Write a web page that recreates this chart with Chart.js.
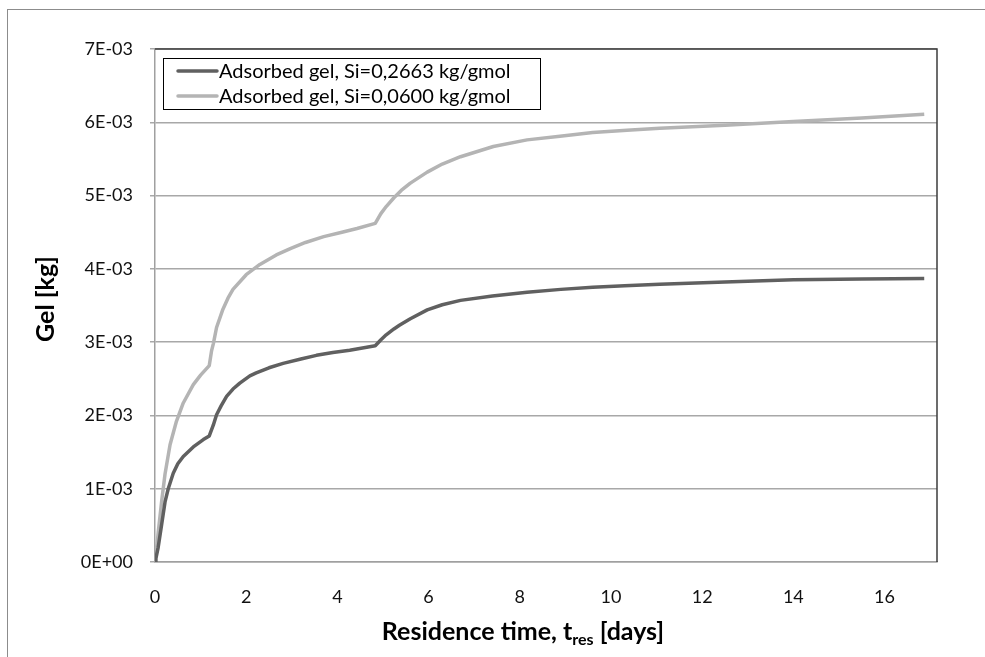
<!DOCTYPE html>
<html lang="en">
<head>
    <meta charset="UTF-8">
    <title>Adsorbed gel vs residence time</title>
    <script src="https://cdn.jsdelivr.net/npm/chart.js"></script>
    <style>
        body {
            margin: 0;
            padding: 0;
            background: white;
        }
        #wrap {
            width: 985px;
            height: 657px;
        }
    </style>
</head>
<body>
    <div id="wrap">
        <canvas id="gelChart" width="985" height="657"></canvas>
    </div>
    <script>
        // Residence time [days] and adsorbed gel [kg]
        const darkLabel = 'Adsorbed gel, Si=0,2663 kg/gmol';
        const darkTime = [0, 0.02, 0.07, 0.15, 0.22, 0.29, 0.4, 0.5, 0.62, 0.84, 1.06, 1.19,
            1.28, 1.35, 1.45, 1.57, 1.71, 1.86, 2.08, 2.22, 2.5, 2.81, 3.2, 3.54, 3.9, 4.27, 4.83,
            4.95, 5.07, 5.24, 5.36, 5.6, 5.97, 6.3, 6.7, 7.4, 8.16, 8.9, 9.6, 10.3, 11.07, 12.5, 14.0, 15.5, 16.87];
        const darkGel = [0, 0.05e-3, 0.20e-3, 0.53e-3, 0.82e-3, 1.00e-3, 1.21e-3, 1.34e-3, 1.44e-3, 1.57e-3, 1.67e-3, 1.72e-3,
            1.87e-3, 2.01e-3, 2.13e-3, 2.26e-3, 2.36e-3, 2.44e-3, 2.54e-3, 2.58e-3, 2.65e-3, 2.71e-3, 2.77e-3, 2.82e-3, 2.86e-3, 2.89e-3, 2.95e-3,
            3.03e-3, 3.10e-3, 3.18e-3, 3.23e-3, 3.32e-3, 3.44e-3, 3.51e-3, 3.57e-3, 3.63e-3, 3.68e-3, 3.72e-3, 3.75e-3, 3.77e-3, 3.79e-3, 3.82e-3, 3.85e-3, 3.86e-3, 3.87e-3];

        const lightLabel = 'Adsorbed gel, Si=0,0600 kg/gmol';
        const lightTime = [0, 0.03, 0.07, 0.15, 0.22, 0.33, 0.47, 0.62, 0.84, 1.0, 1.19,
            1.24, 1.28, 1.35, 1.49, 1.6, 1.71, 2.0, 2.3, 2.66, 2.98, 3.3, 3.7, 4.1, 4.43, 4.83,
            4.95, 5.07, 5.24, 5.4, 5.6, 5.97, 6.3, 6.7, 7.42, 8.16, 8.88, 9.6, 10.35, 11.07, 12.5, 14.0, 15.5, 16.87];
        const lightGel = [0, 0.15e-3, 0.40e-3, 0.85e-3, 1.20e-3, 1.60e-3, 1.92e-3, 2.17e-3, 2.42e-3, 2.55e-3, 2.68e-3,
            2.88e-3, 2.98e-3, 3.20e-3, 3.45e-3, 3.60e-3, 3.72e-3, 3.92e-3, 4.06e-3, 4.19e-3, 4.28e-3, 4.36e-3, 4.44e-3, 4.50e-3, 4.55e-3, 4.62e-3,
            4.75e-3, 4.85e-3, 4.97e-3, 5.07e-3, 5.17e-3, 5.32e-3, 5.43e-3, 5.53e-3, 5.67e-3, 5.76e-3, 5.81e-3, 5.86e-3, 5.89e-3, 5.92e-3, 5.96e-3, 6.01e-3, 6.06e-3, 6.11e-3];

        // Axis settings
        const xMin = 0;
        const xMax = 17.15;
        const xStep = 2;
        const yMin = 0;
        const yMax = 7e-3;
        const yStep = 1e-3;

        const FONT = 'Lato, "Open Sans", sans-serif';

        function toPoints(xs, ys) {
            return xs.map((x, i) => ({ x: x, y: ys[i] }));
        }

        // Outer frame, plot border, axis titles and legend box
        const decorations = {
            id: 'decorations',
            beforeDraw(chart) {
                const ctx = chart.ctx;
                ctx.save();
                ctx.strokeStyle = '#8c8c8c';
                ctx.lineWidth = 1;
                ctx.strokeRect(7.5, 9.5, 2000, 2000);
                ctx.restore();
            },
            afterDraw(chart) {
                const ctx = chart.ctx;
                const area = chart.chartArea;
                ctx.save();

                // top and right border of the plot area
                ctx.strokeStyle = '#3c3c3c';
                ctx.lineWidth = 1.5;
                ctx.beginPath();
                ctx.moveTo(area.left, area.top);
                ctx.lineTo(area.right, area.top);
                ctx.lineTo(area.right, area.bottom);
                ctx.stroke();

                // y axis title
                ctx.fillStyle = '#000';
                ctx.font = 'bold 25px ' + FONT;
                ctx.textAlign = 'center';
                ctx.textBaseline = 'middle';
                ctx.save();
                ctx.translate(46, 299);
                ctx.rotate(-Math.PI / 2);
                ctx.fillText('Gel [kg]', 0, 0);
                ctx.restore();

                // x axis title with subscript
                const part1 = 'Residence time, t';
                const sub = 'res';
                const part2 = ' [days]';
                ctx.font = 'bold 25px ' + FONT;
                const w1 = ctx.measureText(part1).width;
                const w3 = ctx.measureText(part2).width;
                ctx.font = 'bold 16px ' + FONT;
                const w2 = ctx.measureText(sub).width;
                let x = 523 - (w1 + w2 + w3) / 2;
                const base = 640;
                ctx.textAlign = 'left';
                ctx.textBaseline = 'alphabetic';
                ctx.font = 'bold 25px ' + FONT;
                ctx.fillText(part1, x, base);
                x += w1;
                ctx.font = 'bold 16px ' + FONT;
                ctx.fillText(sub, x, base + 5);
                x += w2;
                ctx.font = 'bold 25px ' + FONT;
                ctx.fillText(part2, x, base);

                // legend inside the plot
                const lx = 163.5, ly = 58.5, lw = 377, lh = 51;
                ctx.fillStyle = '#fff';
                ctx.fillRect(lx, ly, lw, lh);
                ctx.strokeStyle = '#000';
                ctx.lineWidth = 1;
                ctx.strokeRect(lx, ly, lw, lh);
                ctx.font = '20px ' + FONT;
                ctx.textBaseline = 'middle';
                chart.data.datasets.forEach((ds, i) => {
                    const cy = 71 + i * 25;
                    ctx.strokeStyle = ds.borderColor;
                    ctx.lineWidth = 3.5;
                    ctx.lineCap = 'round';
                    ctx.beginPath();
                    ctx.moveTo(178, cy);
                    ctx.lineTo(217, cy);
                    ctx.stroke();
                    ctx.fillStyle = '#000';
                    ctx.fillText(ds.label, 219, cy + 1);
                });
                ctx.restore();
            }
        };

        const gelChart = new Chart(document.getElementById('gelChart').getContext('2d'), {
            type: 'scatter',
            data: {
                datasets: [{
                    label: darkLabel,
                    data: toPoints(darkTime, darkGel),
                    borderColor: '#606060',
                    borderWidth: 3.5,
                    showLine: true,
                    pointRadius: 0,
                    tension: 0,
                    borderJoinStyle: 'round',
                    fill: false
                }, {
                    label: lightLabel,
                    data: toPoints(lightTime, lightGel),
                    borderColor: '#b4b4b4',
                    borderWidth: 3.5,
                    showLine: true,
                    pointRadius: 0,
                    tension: 0,
                    borderJoinStyle: 'round',
                    fill: false
                }]
            },
            options: {
                responsive: false,
                animation: false,
                layout: { padding: { left: 0, top: 49, right: 48, bottom: 0 } },
                plugins: {
                    legend: { display: false },
                    tooltip: { enabled: false }
                },
                scales: {
                    x: {
                        type: 'linear',
                        min: xMin,
                        max: xMax,
                        afterFit: scale => { scale.height = 95; },
                        grid: { display: false, drawTicks: false },
                        border: { display: true, color: '#a0a0a0', width: 1.5 },
                        ticks: {
                            stepSize: xStep,
                            includeBounds: false,
                            padding: 24,
                            color: '#111',
                            font: { family: FONT, size: 18 },
                            callback: v => (v % 2 === 0 ? String(v) : '')
                        }
                    },
                    y: {
                        min: yMin,
                        max: yMax,
                        afterFit: scale => { scale.width = 155; },
                        grid: { color: '#a8a8a8', lineWidth: 1.5, tickLength: 5 },
                        border: { display: true, color: '#a0a0a0', width: 1.5 },
                        ticks: {
                            stepSize: yStep,
                            padding: 17,
                            color: '#111',
                            font: { family: FONT, size: 18 },
                            callback: v => {
                                const n = Math.round(v * 1000);
                                return n === 0 ? '0E+00' : n + 'E-03';
                            }
                        }
                    }
                }
            },
            plugins: [decorations]
        });
    </script>
</body>
</html>
